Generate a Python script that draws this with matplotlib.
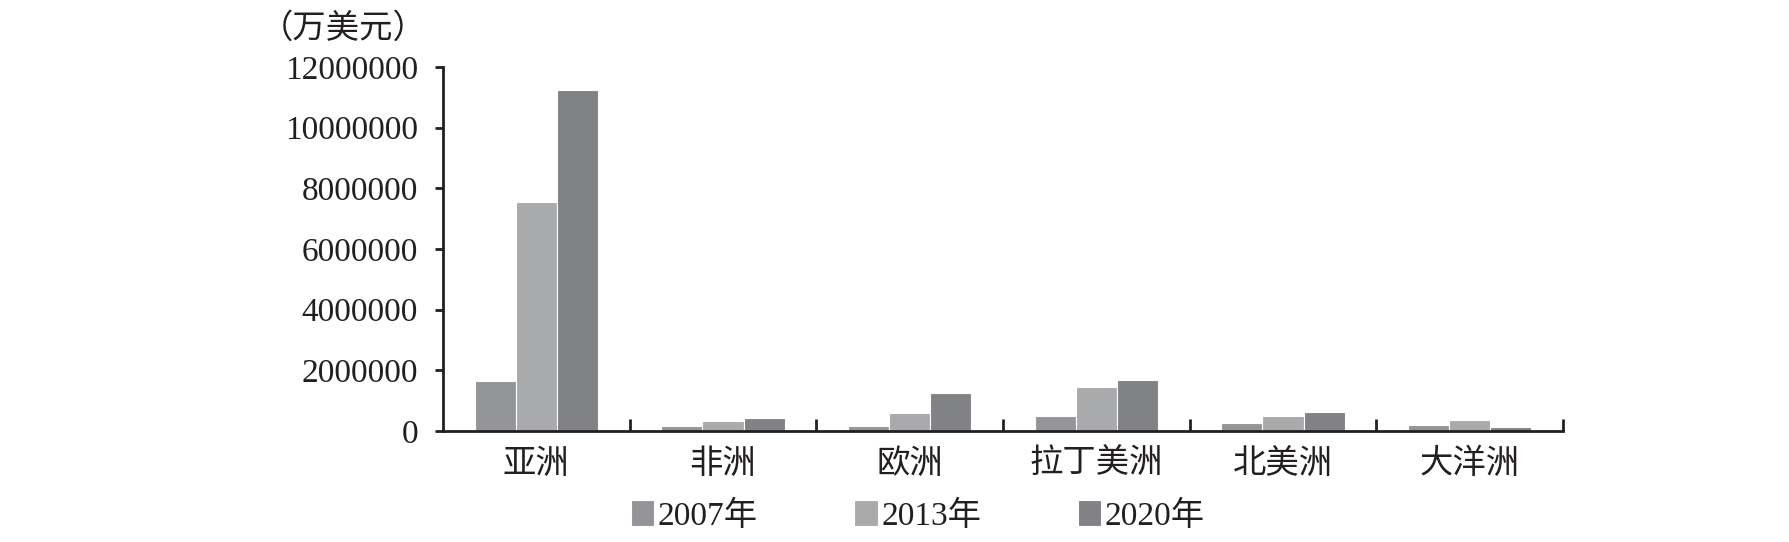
import matplotlib
matplotlib.use('Agg')
import matplotlib.pyplot as plt
import numpy as np

plt.rcParams['font.family'] = ['Liberation Serif', 'Noto Sans CJK SC']

# 中国对外直接投资流量（万美元）
regions = ['亚洲', '非洲', '欧洲', '拉丁美洲', '北美洲', '大洋洲']
years = ['2007年', '2013年', '2020年']
flow_2007 = [1659000, 157000, 154000, 490000, 258000, 195000]
flow_2013 = [7560000, 337000, 595000, 1436000, 490000, 366000]
flow_2020 = [11234000, 423000, 1269000, 1666000, 634000, 145000]
yticks = [0, 2000000, 4000000, 6000000, 8000000, 10000000, 12000000]

colors = ['#939598', '#a9aaac', '#818285']
ink = '#231f20'

fig = plt.figure(figsize=(17.89, 5.42), dpi=100)
ax = fig.add_axes([0.2476, 0.2048, 0.6261, 0.6716])

x = np.arange(len(regions))
w = 0.22
for i, (vals, lab) in enumerate(zip([flow_2007, flow_2013, flow_2020], years)):
    ax.bar(x + (i - 1) * w, vals, width=w, color=colors[i], edgecolor='white',
           linewidth=0.8, label=lab)

ax.set_xlim(-0.5, len(regions) - 0.5)
ax.set_ylim(0, 12000000)
ax.set_yticks(yticks)
ax.set_yticklabels([str(v) for v in yticks])

# 分类边界刻度朝上，分类名放在次刻度
ax.set_xticks(np.arange(0.5, len(regions), 1.0))
ax.set_xticklabels([])
ax.set_xticks(x, minor=True)
ax.set_xticklabels(regions, minor=True)
ax.tick_params(axis='x', which='major', direction='in', length=9, width=2, color=ink)
ax.tick_params(axis='x', which='minor', length=0, pad=13, labelsize=24, labelcolor=ink)
ax.tick_params(axis='y', direction='out', length=6, width=2, color=ink, pad=12,
               labelsize=24, labelcolor=ink)

for s in ['top', 'right']:
    ax.spines[s].set_visible(False)
for s in ['left', 'bottom']:
    ax.spines[s].set_linewidth(2)
    ax.spines[s].set_color(ink)

fig.text(0.1455, 0.946, '（万美元）', fontsize=24, color=ink, ha='left', va='center')

fig.legend(loc='center', bbox_to_anchor=(0.513, 0.048), ncol=3, frameon=False,
           fontsize=24, handlelength=0.7, handleheight=0.8, handletextpad=0.1,
           columnspacing=2.9, labelcolor=ink)

fig.savefig('out.png', dpi=100)
